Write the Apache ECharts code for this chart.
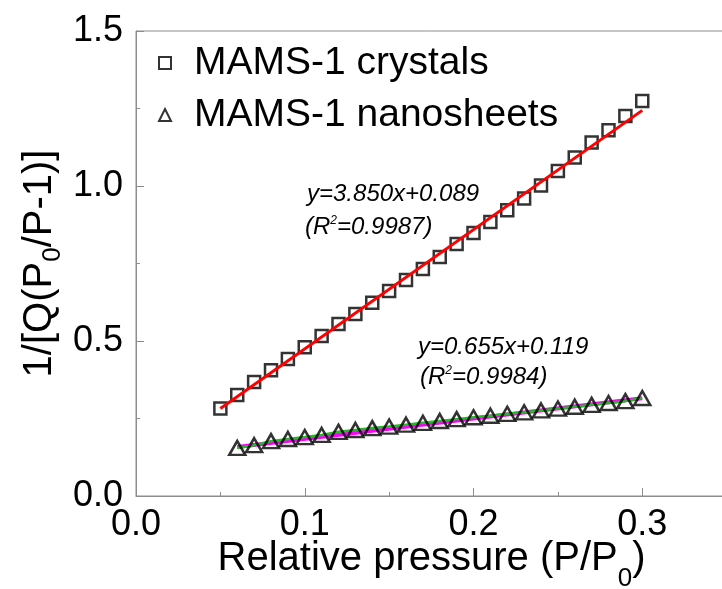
<!DOCTYPE html>
<html>
<head>
    <meta charset="utf-8">
    <title>BET plot</title>
    <script src="https://cdn.jsdelivr.net/npm/echarts@6/dist/echarts.min.js"></script>
    <style>
        html, body { margin: 0; padding: 0; background: #fff; }
        #chart { width: 722px; height: 589px; }
    </style>
</head>
<body>
<div id="chart"></div>
<script>
    // crystals
    var pCrystals = [0.05, 0.06, 0.07, 0.08, 0.09, 0.10, 0.11, 0.12, 0.13, 0.14, 0.15, 0.16, 0.17,
        0.18, 0.19, 0.20, 0.21, 0.22, 0.23, 0.24, 0.25, 0.26, 0.27, 0.28, 0.29, 0.30];
    var crystals = [0.282, 0.326, 0.368, 0.406, 0.442, 0.480, 0.516, 0.555, 0.587, 0.623, 0.661, 0.697, 0.732,
        0.771, 0.813, 0.848, 0.884, 0.922, 0.960, 1.002, 1.048, 1.092, 1.140, 1.180, 1.226, 1.274];
    // nanosheets
    var pSheets = [0.06, 0.07, 0.08, 0.09, 0.10, 0.11, 0.12, 0.13, 0.14, 0.15, 0.16, 0.17,
        0.18, 0.19, 0.20, 0.21, 0.22, 0.23, 0.24, 0.25, 0.26, 0.27, 0.28, 0.29, 0.30];
    var sheets = [0.155, 0.164, 0.177, 0.184, 0.190, 0.197, 0.207, 0.213, 0.219, 0.224, 0.230, 0.236,
        0.242, 0.248, 0.254, 0.259, 0.265, 0.270, 0.276, 0.282, 0.288, 0.294, 0.300, 0.306, 0.316];
    // fit line ends
    var fitCrystals = [[0.05, 0.282], [0.30, 1.244]];
    var fitSheets = [[0.06, 0.158], [0.30, 0.3155]];

    function pairs(xs, ys) {
        var out = [];
        for (var i = 0; i < xs.length; i++) out.push([xs[i], ys[i]]);
        return out;
    }

    var FONT = 'Liberation Sans';
    var AXIS = '#8c8c8c';

    var myChart = echarts.init(document.getElementById('chart'));

    // axis names with a subscript 0 (pushed down by top padding)
    function nameRich(drop) {
        return {
            a: {fontSize: 40, fontFamily: FONT, color: '#000', lineHeight: 42},
            b: {fontSize: 26, fontFamily: FONT, color: '#000', lineHeight: 26, padding: [drop, 0, 0, 0]}
        };
    }
    var supRich = {
        sup: {fontSize: 12, fontFamily: FONT, fontStyle: 'italic', fill: '#000', lineHeight: 12,
            padding: [2, 0, 0, 0], verticalAlign: 'top'}
    };

    function note(x, y, txt) {
        return {
            type: 'text', x: x, y: y, z: 100,
            style: {
                text: txt, fill: '#000', fontSize: 24, fontFamily: FONT, fontStyle: 'italic',
                lineHeight: 28, verticalAlign: 'top', align: 'left', rich: supRich
            }
        };
    }

    var option = {
        animation: false,
        backgroundColor: '#fff',
        grid: {
            left: 136, top: 31, width: 675, height: 465,
            outerBoundsMode: 'none', containLabel: false,
            show: true, borderColor: AXIS, borderWidth: 1
        },
        legend: {
            orient: 'vertical', left: 158, top: 37, padding: 0, itemGap: 0,
            itemWidth: 12, itemHeight: 12,
            textStyle: {fontSize: 39, fontFamily: FONT, color: '#000', lineHeight: 40, padding: [0, 0, 12, 18]},
            data: [
                {name: 'MAMS-1 crystals', icon: 'rect', itemStyle: {color: '#fff', borderColor: '#000', borderWidth: 2}},
                {name: 'MAMS-1 nanosheets', icon: 'triangle', itemStyle: {color: '#fff', borderColor: '#000', borderWidth: 2}}
            ]
        },
        xAxis: {
            type: 'value', min: 0, max: 0.4, interval: 0.1,
            name: '{a|Relative pressure (P/P}{b|0}{a|)}',
            nameLocation: 'middle', nameGap: 42, nameMoveOverlap: false,
            nameTextStyle: {rich: nameRich(40), padding: [0, 84, 0, 0]},
            axisLine: {lineStyle: {color: AXIS, width: 1}},
            axisTick: {inside: true, length: 8, lineStyle: {color: AXIS}},
            minorTick: {show: true, splitNumber: 2, length: 4, lineStyle: {color: AXIS}},
            splitLine: {show: false},
            axisLabel: {fontSize: 36, fontFamily: FONT, color: '#000', margin: 11,
                formatter: function (v) { return v.toFixed(1); }}
        },
        yAxis: {
            type: 'value', min: 0, max: 1.5, interval: 0.5,
            name: '{a|1/[Q(P}{b|0}{a|/P-1)]}',
            nameLocation: 'middle', nameGap: 75, nameRotate: 90, nameMoveOverlap: false,
            nameTextStyle: {rich: nameRich(26)},
            axisLine: {lineStyle: {color: AXIS, width: 1}},
            axisTick: {inside: true, length: 8, lineStyle: {color: AXIS}},
            minorTick: {show: true, splitNumber: 2, length: 4, lineStyle: {color: AXIS}},
            splitLine: {show: false},
            axisLabel: {fontSize: 36, fontFamily: FONT, color: '#000', margin: 13,
                formatter: function (v) { return v.toFixed(1); }}
        },
        graphic: [
            note(307, 180, 'y=3.850x+0.089'),
            note(305, 213, '(R{sup|2}=0.9987)'),
            note(418, 333, 'y=0.655x+0.119'),
            note(420, 363, '(R{sup|2}=0.9984)')
        ],
        series: [
            {
                name: 'MAMS-1 crystals', type: 'scatter', symbol: 'rect', symbolSize: 12, z: 2,
                itemStyle: {color: 'transparent', borderColor: '#000', borderWidth: 2.5},
                data: pairs(pCrystals, crystals)
            },
            {
                name: 'crystals fit', type: 'line', symbol: 'none', z: 3,
                lineStyle: {color: '#ff0000', width: 3},
                data: fitCrystals
            },
            {
                name: 'nanosheets fit', type: 'line', symbol: 'none', z: 1,
                lineStyle: {color: '#ff00ff', width: 4},
                data: fitSheets
            },
            {
                name: 'nanosheets line', type: 'line', symbol: 'none', z: 2,
                lineStyle: {color: '#22bb22', width: 2.5},
                data: pairs(pSheets, sheets)
            },
            {
                name: 'MAMS-1 nanosheets', type: 'scatter', symbol: 'triangle', symbolSize: [16, 14], z: 3,
                itemStyle: {color: 'transparent', borderColor: '#000', borderWidth: 2.5},
                data: pairs(pSheets, sheets)
            }
        ]
    };
    myChart.setOption(option);
</script>
</body>
</html>
